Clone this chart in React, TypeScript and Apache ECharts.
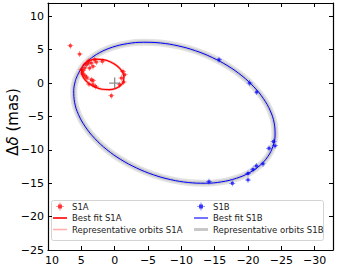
import React, { useEffect, useRef } from "react";
import * as echarts from "echarts";

const xTicks = [10, 5, 0, -5, -10, -15, -20, -25, -30];
const yTicks = [-25, -20, -15, -10, -5, 0, 5, 10];
const xRange = [-32.75, 10];
const yRange = [-25, 12];

const s1aObs: number[][] = [
  [6.65, 5.6], [5.25, 4.35], [3.85, 3.35], [4.0, 3.0], [4.25, 2.75], [3.5, 3.0],
  [3.0, 3.5], [2.75, 3.15], [3.25, 2.5], [1.85, 3.25], [4.5, 2.25], [4.75, 1.85],
  [4.85, 1.5], [4.65, 1.25], [4.35, 1.0], [5.0, 2.0], [3.75, 2.25], [4.15, 0.75],
  [3.25, 0.35], [3.5, 0.5], [3.85, -0.15], [3.25, -0.25], [2.85, -0.5],
  [-1.25, 1.75], [-1.5, 1.25], [-1.0, 0.75], [-1.35, 0.15], [-0.75, -0.25], [0.5, -1.9],
];

const s1bObs: number[][] = [
  [-15.65, 3.5], [-20.25, 0.0], [-21.3, -1.35], [-23.85, -8.75], [-24.05, -9.4],
  [-23.15, -9.75], [-22.25, -12.1], [-21.25, -12.4], [-20.75, -12.95], [-20.0, -13.55],
  [-20.0, -14.5], [-17.65, -15.0], [-14.15, -14.75],
];

const s1aFit: number[][] = [
  [4.93, 2.29], [4.52, 2.94], [3.78, 3.39], [2.8, 3.59], [1.7, 3.52], [0.61, 3.17],
  [-0.33, 2.6], [-1.02, 1.88], [-1.37, 1.08], [-1.33, 0.31], [-0.92, -0.34],
  [-0.18, -0.79], [0.8, -0.99], [1.9, -0.92], [2.99, -0.57], [3.93, 0.0],
  [4.62, 0.72], [4.97, 1.52], [4.93, 2.29],
];

const s1bFit: number[][] = [
  [5.82, 0.59], [6.14, -1.1], [6.01, -2.89], [5.42, -4.73], [4.39, -6.56], [2.96, -8.32],
  [1.17, -9.97], [-0.93, -11.45], [-3.28, -12.71], [-5.8, -13.73], [-8.41, -14.46],
  [-11.04, -14.89], [-13.61, -15.0], [-16.04, -14.79], [-18.25, -14.26], [-20.18, -13.44],
  [-21.77, -12.34], [-22.97, -11.01], [-23.74, -9.47], [-24.06, -7.78], [-23.93, -5.99],
  [-23.34, -4.15], [-22.31, -2.32], [-20.88, -0.56], [-19.09, 1.09], [-16.99, 2.57],
  [-14.64, 3.83], [-12.12, 4.85], [-9.51, 5.58], [-6.88, 6.01], [-4.31, 6.12],
  [-1.88, 5.91], [0.33, 5.38], [2.26, 4.56], [3.85, 3.46], [5.05, 2.13], [5.82, 0.59],
];

const s1aReps: number[][] = s1aFit;
const s1bReps: number[][] = s1bFit;
const originMark: number[][] = [[0, 0]];

const FONT = "DejaVu Sans";
const markerPath =
  "path://M4.6,0H5.4V10H4.6Z M0,4.6H10V5.4H0Z M2.6,2.6H7.4V7.4H2.6Z";
const plusPath = "path://M4.4,0H5.6V10H4.4Z M0,4.4H10V5.6H0Z";
const thinLine = "path://M0,0H14V1.1H0Z";
const midLine = "path://M0,0H14V1.6H0Z";
const thickLine = "path://M0,0H14V3H0Z";

const fmt = (v: number) => String(v).replace("-", "\u2212");

export default function App() {
  const ref = useRef<HTMLDivElement>(null);
  useEffect(() => {
    if (!ref.current) return;
    const chart = echarts.init(ref.current, undefined, { renderer: "svg" });
    const axisCommon = {
      type: "value" as const,
      splitLine: { show: false },
      axisLine: { show: true, onZero: false, lineStyle: { color: "#000", width: 1.2 } },
    };
    const legendCommon = {
      orient: "vertical" as const,
      top: 202,
      itemWidth: 14,
      itemHeight: 8,
      itemGap: 2.5,
      padding: 0,
      textStyle: { fontFamily: FONT, fontSize: 8.5, color: "#222", lineHeight: 8 },
    };
    chart.setOption({
      animation: false,
      grid: { left: 48, right: 10, top: 3, bottom: 16, containLabel: false },
      xAxis: [
        {
          ...axisCommon,
          position: "bottom",
          inverse: true,
          min: xRange[0],
          max: xRange[1],
          axisTick: { show: true, inside: true, length: 4, customValues: xTicks, lineStyle: { color: "#000" } },
          axisLabel: {
            customValues: xTicks,
            formatter: (v: number) => (v === xTicks[0] ? "{e|" + fmt(v) + "}" : fmt(v)),
            rich: { e: { fontFamily: FONT, fontSize: 11, color: "#000", padding: [0, 0, 0, 8] } },
            fontFamily: FONT,
            fontSize: 11,
            color: "#000",
            margin: 5,
          },
        },
        {
          ...axisCommon,
          position: "top",
          inverse: true,
          min: xRange[0],
          max: xRange[1],
          axisTick: { show: true, inside: true, length: 4, customValues: xTicks, lineStyle: { color: "#000" } },
          axisLabel: { show: false },
        },
      ],
      yAxis: [
        {
          ...axisCommon,
          position: "left",
          min: yRange[0],
          max: yRange[1],
          axisTick: { show: true, inside: true, length: 4, customValues: yTicks, lineStyle: { color: "#000" } },
          axisLabel: {
            customValues: yTicks,
            formatter: fmt,
            fontFamily: FONT,
            fontSize: 11,
            color: "#000",
            margin: 4,
          },
        },
        {
          ...axisCommon,
          position: "right",
          min: yRange[0],
          max: yRange[1],
          axisTick: { show: true, inside: true, length: 4, customValues: yTicks, lineStyle: { color: "#000" } },
          axisLabel: { show: false },
        },
      ],
      legend: [
        {
          ...legendCommon,
          left: 53,
          data: [
            { name: "S1A", icon: markerPath },
            { name: "Best fit S1A", icon: midLine },
            { name: "Representative orbits S1A", icon: midLine },
          ],
        },
        {
          ...legendCommon,
          left: 194,
          data: [
            { name: "S1B", icon: markerPath },
            { name: "Best fit S1B", icon: thinLine },
            { name: "Representative orbits S1B", icon: thickLine },
          ],
        },
      ],
      graphic: [
        {
          type: "rect",
          left: 51,
          top: 200,
          shape: { width: 272, height: 40, r: 2 },
          style: { fill: "rgba(255,255,255,0.8)", stroke: "#d4d4d4", lineWidth: 1 },
          z: 0,
        },
        {
          type: "text",
          x: 13,
          y: 122,
          rotation: Math.PI / 2,
          style: {
            text: "\u0394{i|\u03b4} (mas)",
            fontFamily: FONT,
            fontSize: 15,
            fill: "#000",
            align: "center",
            verticalAlign: "middle",
            rich: { i: { fontStyle: "italic", fontFamily: FONT, fontSize: 15, fill: "#000" } },
          },
        },
      ],
      series: [
        {
          name: "Representative orbits S1B",
          type: "line",
          data: s1bReps,
          smooth: 0.4,
          symbol: "none",
          lineStyle: { color: "#e2e2e2", width: 7 },
          itemStyle: { color: "#c8c8c8" },
          z: 1,
        },
        {
          name: "Representative orbits S1B",
          type: "line",
          data: s1bReps,
          smooth: 0.4,
          symbol: "none",
          lineStyle: { color: "#c8c8c8", width: 3.5 },
          itemStyle: { color: "#c8c8c8" },
          z: 1,
        },
        {
          name: "Representative orbits S1A",
          type: "line",
          data: s1aReps,
          smooth: 0.4,
          symbol: "none",
          lineStyle: { color: "#ffb0b0", width: 2.5 },
          itemStyle: { color: "#ffb0b0" },
          z: 2,
        },
        {
          name: "Best fit S1B",
          type: "line",
          data: s1bFit,
          smooth: 0.4,
          symbol: "none",
          lineStyle: { color: "#0000ff", width: 1 },
          itemStyle: { color: "#0000ff" },
          z: 3,
        },
        {
          name: "Best fit S1A",
          type: "line",
          data: s1aFit,
          smooth: 0.4,
          symbol: "none",
          lineStyle: { color: "#ff0000", width: 1.2 },
          itemStyle: { color: "#ff0000" },
          z: 3,
        },
        {
          name: "S1A",
          type: "scatter",
          data: s1aObs,
          symbol: markerPath,
          symbolSize: 6,
          itemStyle: { color: "#ff0000" },
          z: 4,
        },
        {
          name: "S1B",
          type: "scatter",
          data: s1bObs,
          symbol: markerPath,
          symbolSize: 6,
          itemStyle: { color: "#0000ff" },
          z: 4,
        },
        {
          name: "origin",
          type: "scatter",
          data: originMark,
          symbol: plusPath,
          symbolSize: 11,
          itemStyle: { color: "#707070" },
          z: 5,
        },
      ],
    });
    return () => chart.dispose();
  }, []);
  return (
    <div
      ref={ref}
      style={{ position: "absolute", left: 0, top: 0, width: 343, height: 266 }}
    />
  );
}
